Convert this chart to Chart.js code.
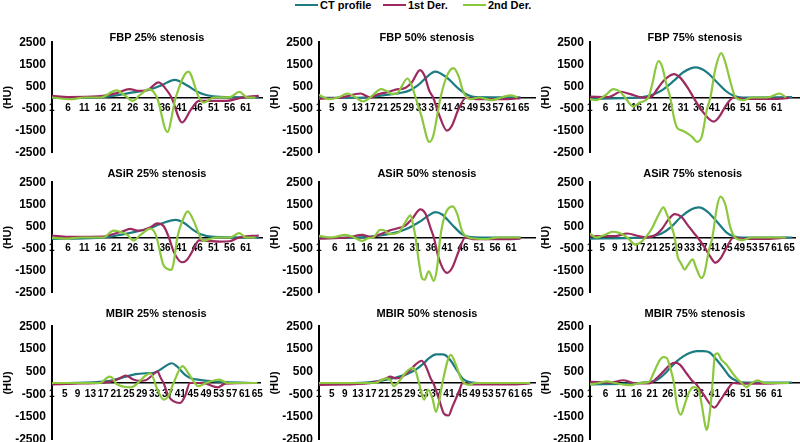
<!DOCTYPE html>
<html>
<head>
<meta charset="utf-8">
<script src="https://cdn.jsdelivr.net/npm/chart.js@4.4.1/dist/chart.umd.min.js"></script>
<style>
  html, body { margin: 0; padding: 0; background: #fff; width: 800px; height: 442px; overflow: hidden; }
  body { position: relative; font-family: "Liberation Sans", Arial, sans-serif; }
  canvas { position: absolute; }
  .item { position: absolute; top: -1px; font: bold 11px "Liberation Sans", Arial, sans-serif; line-height: 12px; white-space: nowrap; color: #000; }
  .swatch { display: inline-block; width: 23px; height: 0; border-top: 2px solid; vertical-align: middle; margin-right: 2px; position: relative; top: -1px; }
</style>
</head>
<body>
<script>
const seriesNames = ["CT profile", "1st Der.", "2nd Der."];
const panelTitles = [
  "FBP 25% stenosis", "FBP 50% stenosis", "FBP 75% stenosis",
  "ASiR 25% stenosis", "ASiR 50% stenosis", "ASiR 75% stenosis",
  "MBIR 25% stenosis", "MBIR 50% stenosis", "MBIR 75% stenosis"
];
const yTicks = [-2500, -1500, -500, 500, 1500, 2500];
const ticksBy5 = [1, 6, 11, 16, 21, 26, 31, 36, 41, 46, 51, 56, 61];
const ticksBy4 = [1, 5, 9, 13, 17, 21, 25, 29, 33, 37, 41, 45, 49, 53, 57, 61, 65];

// [sample index, HU]
const fbp25Ct = [[1,-20],[10,-10],[16,10],[21,100],[26,230],[31,350],[35,560],[39,800],[43,530],[46,260],[49,100],[53,30],[65,10]];
const fbp25D1 = [[1,70],[6,20],[15,50],[21,200],[25,380],[28,300],[30.5,330],[34,680],[36.7,300],[38,0],[41.3,-1130],[44,-550],[46.5,-150],[50,-150],[55,-150],[59,-30],[62,40],[65,70]];
const fbp25D2 = [[1,0],[7,-80],[11,0],[16,0],[21,320],[23.5,100],[26,-150],[28,80],[31,380],[33.5,0],[36.7,-1560],[39.3,0],[43.2,1170],[46.5,0],[48,-230],[51,0],[56,20],[59,250],[61.5,0],[64,0]];

const fbp50Ct = [[1,-20],[15,0],[21,100],[26,200],[29,300],[32,560],[34.5,900],[37.3,1170],[41,900],[44.6,400],[47.7,100],[50,20],[64,10]];
const fbp50D1 = [[1,-60],[8,0],[14,180],[17,0],[19.5,150],[22.6,250],[25.8,380],[27.3,400],[30,680],[32.6,1240],[34,980],[35.5,300],[36.7,0],[38.3,-680],[41,-1500],[42.5,-1290],[44.6,-530],[47,0],[50,-70],[60,-70],[64,-30]];
const fbp50D2 = [[1,120],[4,-70],[7,0],[10,180],[12.5,0],[14.8,-180],[17,0],[20.5,380],[22.6,260],[24,150],[25.5,200],[28.7,860],[30,530],[31.2,0],[33,-830],[35.5,-2010],[36.7,-1740],[38.3,-530],[39,0],[41,980],[43,1330],[44.6,980],[46,300],[47.2,0],[48.5,-70],[51,0],[55,-120],[58,0],[61,100],[63,0]];

const fbp75Ct = [[1,-70],[14,-20],[17,0],[19.3,50],[22.5,200],[24.7,380],[28,760],[31,1140],[35,1360],[38.6,1140],[41.9,680],[45,260],[47.2,80],[50,0],[66,20]];
const fbp75D1 = [[1,40],[7,20],[11,260],[14,150],[18,0],[20.9,50],[22.5,350],[24.7,760],[28,1060],[30,900],[32.7,380],[34.3,0],[36.5,-500],[40.8,-1090],[42.4,-900],[45,-300],[47.2,0],[50,-60],[60,-60],[65,-20]];
const fbp75D2 = [[1,-70],[3,-120],[6,100],[8.5,380],[10.7,260],[12.3,0],[15,-410],[17,-230],[19.8,0],[20.9,530],[23,1640],[24.1,1440],[25.7,530],[26.8,0],[28,-900],[29,-1360],[31,-1510],[32.5,-1640],[34,-1800],[35.4,-2010],[37,-1740],[38.6,-530],[39.7,0],[41.3,1290],[43.2,2010],[44.5,1590],[46.2,680],[47.8,0],[50.5,-120],[53,0],[58,0],[62,180],[64,0]];

const asir25Ct = [[1,-60],[15,-20],[21,90],[26,230],[31.5,430],[35.6,670],[39.3,800],[41.8,670],[44.8,330],[47,150],[51,30],[65,0]];
const asir25D1 = [[1,90],[6,30],[17,40],[19,120],[23,280],[25.3,390],[27.4,310],[29.4,340],[31.5,460],[33.6,640],[35.6,510],[37.2,0],[38.7,-650],[41.3,-1120],[42.9,-990],[44.9,-500],[46.5,-130],[49,-150],[53,-190],[56,-170],[59,0],[65,90]];
const asir25D2 = [[1,-20],[5,-50],[10,0],[17,0],[20,310],[21.5,280],[24.3,120],[26.3,-140],[28.4,120],[31.5,400],[33.2,100],[35.6,-1270],[38,-1460],[38.7,-1120],[39.8,0],[41.8,900],[43,1180],[44.9,740],[47,0],[48,-150],[50,-60],[52,0],[56,0],[59,200],[61,0],[64,0]];

const asir50Ct = [[1,-30],[15.5,20],[20.8,100],[25.9,260],[29,430],[32.2,690],[35.3,1000],[37.4,1150],[39.5,1040],[42.6,580],[45.7,150],[47.8,30],[52,0],[64,0]];
const asir50D1 = [[1,-50],[10,0],[14.5,120],[17,30],[19.7,120],[22.8,300],[25.9,430],[28,540],[30.1,840],[32.7,1270],[34.3,1070],[35.8,460],[36.9,0],[38.4,-920],[41,-1600],[42.6,-1380],[44.7,-610],[46.7,0],[49,-70],[60,-70],[64,-50]];
const asir50D2 = [[1,70],[5,0],[9.3,120],[12,0],[14.5,-150],[16.5,-30],[18,0],[20.2,350],[21.8,300],[23,150],[25.9,230],[28,690],[29.6,1000],[30.6,460],[31.2,0],[32.2,-1070],[33.2,-1840],[34,-1910],[35.3,-1530],[36.9,-1960],[37.9,-1380],[38.9,0],[40.5,1070],[42.8,1410],[44.2,1070],[45.7,300],[47.8,0],[53.5,-70],[57,0],[64,0]];

const asir75Ct = [[1,-50],[15,-20],[20.9,50],[24,180],[27.2,490],[30.3,940],[33.5,1270],[36,1360],[38.7,1170],[41.8,710],[45,210],[47.1,60],[50,0],[66,0]];
const asir75D1 = [[1,60],[9,60],[13,180],[16.7,60],[19,0],[21.9,100],[24,360],[26.1,790],[28.2,1060],[30.3,940],[32.4,560],[34.5,180],[35.6,0],[37.7,-420],[39.7,-880],[41.3,-1140],[42.9,-950],[45,-420],[47.1,0],[50,-60],[58,-60],[64,0]];
const asir75D2 = [[1,180],[3,0],[5.5,100],[8.3,260],[10.5,200],[13,0],[15.7,-320],[17.5,-200],[18.8,0],[20.9,410],[23,1020],[24.6,1360],[25.6,1090],[27.2,490],[28.2,0],[29.2,-880],[30.3,-1180],[31.4,-1450],[32.4,-1260],[34,-990],[35,-1330],[36.8,-1830],[37.7,-1640],[39.2,-580],[40.3,0],[41.8,1390],[42.9,1850],[44.5,1470],[46,490],[47.6,0],[50,-120],[53,0],[64,0]];

const mbir25Ct = [[1,-30],[15.8,50],[19.9,120],[24,280],[27.1,390],[30.2,430],[33.2,460],[35.3,640],[37.3,820],[38.4,870],[39.9,740],[42.5,360],[44.5,200],[46.5,150],[50.6,80],[55,40],[65,0]];
const mbir25D1 = [[1,-60],[10,-20],[18.9,50],[22,200],[24,330],[26.1,170],[28.1,90],[30.2,120],[32.2,330],[33.8,510],[35,200],[35.8,0],[37.3,-570],[40.9,-880],[42.5,-570],[44,0],[48,0],[52.7,-190],[55,-30],[65,0]];
const mbir25D2 = [[1,0],[16,0],[18.9,280],[20,200],[21,-30],[25.6,-190],[27,-100],[30.2,330],[31.7,430],[33.8,-260],[35.8,-730],[37.3,-570],[38.9,0],[41.7,740],[43.5,430],[45.5,0],[46.5,-140],[49,0],[53.2,150],[55.7,0],[65,0]];

const mbir50Ct = [[1,-30],[15.4,20],[19.5,80],[23.6,200],[26.7,330],[28.7,430],[30.8,590],[32.9,820],[34.9,1090],[37,1260],[39,1260],[40,1220],[41.6,980],[43.7,510],[45.2,200],[47,50],[50,0],[66,0]];
const mbir50D1 = [[1,-80],[15,-30],[18.5,50],[21.6,200],[23,280],[24.6,200],[26.7,280],[28.7,510],[30.8,820],[32.6,980],[33.9,740],[35.4,200],[36.2,0],[38,-730],[39.5,-1350],[40.9,-1430],[42.1,-1040],[44.2,-340],[45.2,0],[48,-60],[60,-60],[66,-20]];
const mbir50D2 = [[1,0],[18,0],[21.8,200],[23,130],[24,-140],[25.5,50],[28,500],[29.8,670],[30.8,510],[31.8,0],[33.4,-730],[34.6,-300],[36,-700],[37,-1270],[38,-800],[39,0],[41.6,1240],[43.1,820],[44.7,200],[45.7,0],[47,-80],[49,0],[66,0]];

const mbir75Ct = [[1,-60],[15,-20],[20.3,50],[22.4,120],[24.6,350],[26.7,650],[28.9,950],[31,1170],[33.2,1330],[35.3,1400],[37.4,1400],[39.6,1330],[41.7,1020],[43.9,650],[46,270],[48.2,90],[51,20],[66,20]];
const mbir75D1 = [[1,50],[8,20],[11.7,120],[15,0],[20,-20],[22.4,200],[24.6,500],[26.7,800],[28.5,900],[30,800],[32.1,420],[34.2,50],[34.8,0],[37.4,-480],[41,-1080],[42.8,-780],[45,-330],[47.1,0],[50,-30],[65,0]];
const mbir75D2 = [[1,-60],[4,0],[6.4,70],[9,0],[13.9,-100],[17,0],[20,50],[21.4,420],[23.5,1020],[24.6,1140],[25.7,1100],[26.7,720],[28,0],[28.9,-930],[30.2,-1390],[31.5,-930],[32.6,-480],[34.2,-180],[35.8,-260],[36.9,-930],[38,-1840],[38.5,-2060],[39.6,-1230],[40.4,0],[41.2,1250],[42,1300],[43.3,1020],[44.9,800],[46.5,500],[48.2,200],[49.8,0],[51.2,-180],[53,0],[55,120],[57,0],[65,0]];

const panelSeries = [
  [fbp25Ct, fbp25D1, fbp25D2], [fbp50Ct, fbp50D1, fbp50D2], [fbp75Ct, fbp75D1, fbp75D2],
  [asir25Ct, asir25D1, asir25D2], [asir50Ct, asir50D1, asir50D2], [asir75Ct, asir75D1, asir75D2],
  [mbir25Ct, mbir25D1, mbir25D2], [mbir50Ct, mbir50D1, mbir50D2], [mbir75Ct, mbir75D1, mbir75D2]
];
const panelTicks = [ticksBy5, ticksBy4, ticksBy5, ticksBy5, ticksBy5, ticksBy4, ticksBy4, ticksBy4, ticksBy5];
const panelXMax = [66, 68.5, 68.5, 66, 68.5, 67, 66, 67.5, 68.5];

// layout
const colors = ["#1c7c82", "#9c2a5e", "#8cc83e"];
const colLeft = [-1, 266, 537], colWidth = [269, 274, 263], colPadRight = [6, 5, 0];
const rowTop = [29, 167, 307], rowHeight = [137, 139, 146], rowTitleGap = [-2, 2, 6];
const FONT = "'Liberation Sans', Arial, sans-serif";

// legend
const legendLeft = [295, 383, 463];
seriesNames.forEach((name, k) => {
  const d = document.createElement("div");
  d.className = "item";
  d.style.left = legendLeft[k] + "px";
  d.innerHTML = '<span class="swatch" style="border-color:' + colors[k] + '"></span>' + name;
  document.body.appendChild(d);
});

panelTitles.forEach((title, p) => {
  const col = p % 3, row = Math.floor(p / 3);
  const canvas = document.createElement("canvas");
  canvas.width = colWidth[col];
  canvas.height = rowHeight[row];
  canvas.style.left = colLeft[col] + "px";
  canvas.style.top = rowTop[row] + "px";
  document.body.appendChild(canvas);

  new Chart(canvas, {
    type: "line",
    data: {
      datasets: panelSeries[p].map((pts, k) => ({
        label: seriesNames[k],
        data: pts.map(([x, y]) => ({ x, y })),
        borderColor: colors[k],
        borderWidth: 2.2,
        pointRadius: 0,
        cubicInterpolationMode: "monotone",
        order: 3 - k,
      })),
    },
    options: {
      responsive: false,
      animation: false,
      events: [],
      layout: { padding: { left: 0, right: colPadRight[col], top: 0, bottom: 0 } },
      plugins: {
        legend: { display: false },
        tooltip: { enabled: false },
        title: {
          display: true,
          fullSize: false,
          text: title,
          color: "#000",
          font: { family: FONT, size: 11, weight: "bold" },
          padding: { top: 0, bottom: rowTitleGap[row] },
        },
      },
      scales: {
        x: {
          type: "linear",
          position: { y: 0 },
          min: 1,
          max: panelXMax[p],
          afterBuildTicks: (s) => { s.ticks = panelTicks[p].map((v) => ({ value: v })); },
          grid: { display: false, drawTicks: false },
          border: { display: true, color: "#000", width: 1.5 },
          ticks: { color: "#000", font: { family: FONT, size: 10, weight: "bold" }, padding: 5, maxRotation: 0, autoSkip: false, callback: (v) => String(v) },
        },
        y: {
          min: -2500,
          max: 2500,
          afterBuildTicks: (s) => { s.ticks = yTicks.map((v) => ({ value: v })); },
          title: { display: true, text: "(HU)", color: "#000", font: { family: FONT, size: 11, weight: "bold" }, padding: { top: 2, bottom: -5 } },
          grid: { display: false, drawTicks: false },
          border: { display: true, color: "#000", width: 2 },
          ticks: { color: "#000", font: { family: FONT, size: 12, weight: "bold" }, padding: 6, callback: (v) => String(v) },
        },
      },
    },
  });
});
</script>
</body>
</html>
